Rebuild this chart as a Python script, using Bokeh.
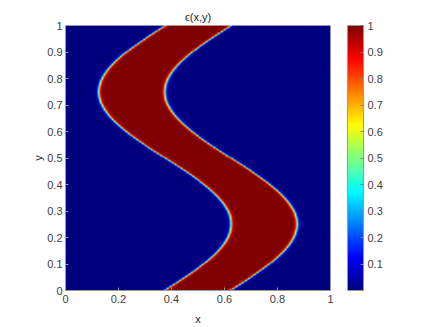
import numpy as np
from bokeh.plotting import figure
from bokeh.models import LinearColorMapper, ColorBar, FixedTicker, Range1d
from bokeh.embed import file_html
from bokeh.resources import INLINE

# --- field parameters ---
band_center = 0.5
band_amplitude = 0.25
band_half_width = 0.125
interface_width = 0.007
grid_n = 400

x_ticks = [0, 0.2, 0.4, 0.6, 0.8, 1]
y_ticks = [0, 0.1, 0.2, 0.3, 0.4, 0.5, 0.6, 0.7, 0.8, 0.9, 1]
cbar_ticks = [0.1, 0.2, 0.3, 0.4, 0.5, 0.6, 0.7, 0.8, 0.9, 1]

xs = np.linspace(0, 1, grid_n)
ys = np.linspace(0, 1, grid_n)
X, Y = np.meshgrid(xs, ys)
C = band_center + band_amplitude * np.sin(2 * np.pi * Y)
eps = 0.5 * (1 - np.tanh((np.abs(X - C) - band_half_width) / interface_width))


def jet(n=256):
    out = []
    for i in range(n):
        v = i / (n - 1)
        r = np.clip(min(4 * v - 1.5, -4 * v + 4.5), 0, 1)
        g = np.clip(min(4 * v - 0.5, -4 * v + 3.5), 0, 1)
        b = np.clip(min(4 * v + 0.5, -4 * v + 2.5), 0, 1)
        out.append("#%02x%02x%02x" % (int(r * 255), int(g * 255), int(b * 255)))
    return out


mapper = LinearColorMapper(palette=jet(), low=0, high=1)

p = figure(width=436, height=327, output_backend="svg", toolbar_location=None,
           x_range=Range1d(0, 1), y_range=Range1d(0, 1),
           min_border_left=65, min_border_right=106, min_border_top=25, min_border_bottom=37,
           title="\u03f5(x,y)")
p.image(image=[eps], x=0, y=0, dw=1, dh=1, color_mapper=mapper)

p.title.align = "center"
p.title.text_font = "Liberation Sans"
p.title.text_font_size = "11px"
p.title.text_font_style = "normal"
p.title.text_color = "#262626"
p.title.standoff = 6

p.grid.visible = False
p.outline_line_color = "#c8c8c8"
p.outline_line_width = 1

for ax, ticks, lab in ((p.xaxis[0], x_ticks, "x"), (p.yaxis[0], y_ticks, "y")):
    ax.ticker = FixedTicker(ticks=ticks)
    ax.axis_label = lab
    ax.axis_label_text_font = "Liberation Sans"
    ax.axis_label_text_font_size = "11px"
    ax.axis_label_text_font_style = "normal"
    ax.axis_label_text_color = "#262626"
    ax.major_label_text_font = "Liberation Sans"
    ax.major_label_text_font_size = "11px"
    ax.major_label_text_color = "#404040"
    ax.axis_line_color = "#999999"
    ax.major_tick_line_color = "#999999"
    ax.major_tick_in = 3
    ax.major_tick_out = 0
    ax.minor_tick_line_color = None

p.xaxis[0].major_label_standoff = 4
p.xaxis[0].axis_label_standoff = 7
p.yaxis[0].major_label_standoff = 3
p.yaxis[0].axis_label_standoff = 0

cb = ColorBar(color_mapper=mapper, ticker=FixedTicker(ticks=cbar_ticks),
              width=16, height=265, padding=0, margin=0, location=(17, 0),
              major_label_text_font="Liberation Sans", major_label_text_font_size="11px",
              major_label_text_color="#404040",
              major_tick_in=3, major_tick_out=0, major_tick_line_color="#808080",
              bar_line_color="#999999", border_line_color=None,
              background_fill_color=None, label_standoff=4)
p.add_layout(cb, "right")

open("out.html", "w").write(file_html(p, INLINE))
